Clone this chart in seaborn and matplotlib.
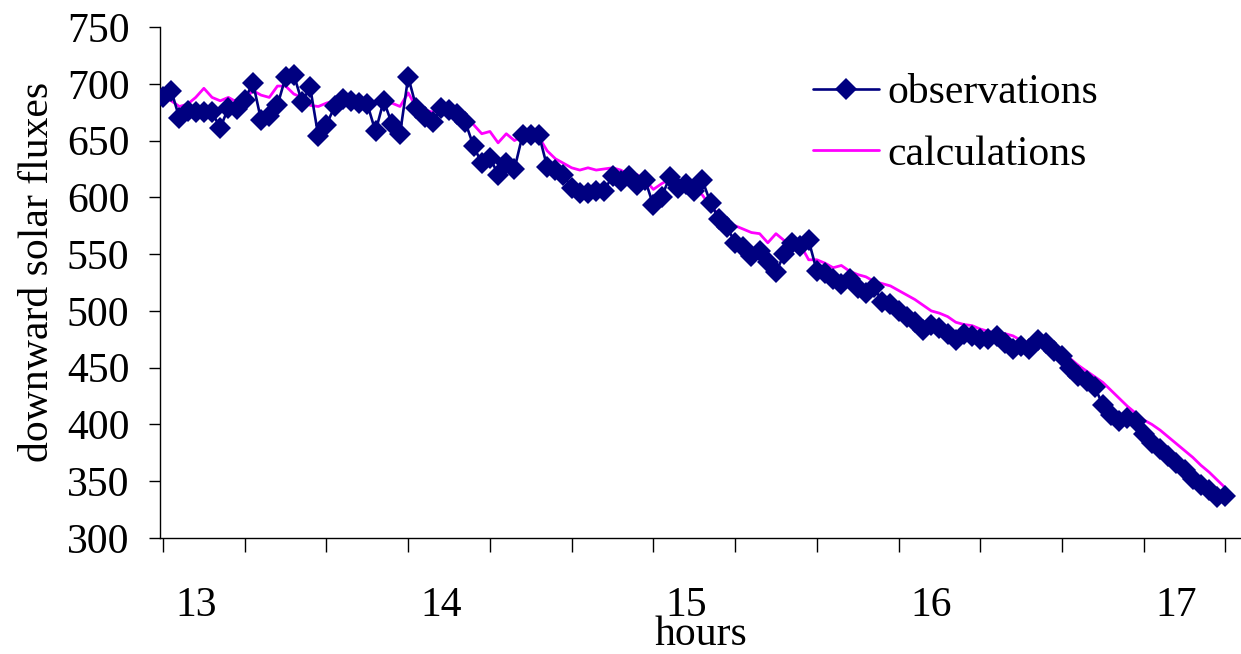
import numpy as np
import pandas as pd
import matplotlib
matplotlib.use('Agg')
import matplotlib.pyplot as plt
import seaborn as sns

# наблюдения, шаг 2 минуты, начало 12:52
observations = [
    688, 694, 670, 676, 675, 675, 675, 661, 679, 678,
    686, 701, 668, 672, 681, 706, 708, 684, 697, 654,
    664, 680, 687, 685, 683, 682, 658, 685, 665, 656,
    706, 679, 671, 666, 679, 677, 673, 666, 645, 630,
    635, 620, 630, 625, 655, 655, 655, 627, 624, 620,
    608, 604, 604, 606, 606, 619, 614, 619, 611, 615,
    593, 600, 618, 608, 612, 606, 615, 595, 581, 574,
    560, 556, 548, 553, 543, 534, 550, 560, 557, 562,
    535, 533, 528, 524, 528, 520, 516, 521, 508, 506,
    500, 495, 490, 483, 488, 485, 480, 474, 480, 478,
    475, 475, 478, 472, 466, 469, 466, 474, 472, 465,
    460, 450, 443, 438, 433, 417, 408, 403, 406, 403,
    392, 384, 378, 372, 366, 360, 352, 347, 342, 336,
    337,
]

calculations = [
    688, 685, 680, 682, 688, 696, 688, 685, 688, 684,
    686, 694, 690, 688, 698, 698, 691, 688, 681, 680,
    683, 685, 684, 683, 681, 680, 685, 680, 683, 680,
    692, 679, 677, 675, 680, 680, 676, 670, 664, 656,
    658, 648, 656, 650, 654, 654, 653, 641, 634, 630,
    626, 624, 626, 624, 625, 626, 624, 620, 620, 615,
    607, 612, 616, 610, 612, 608, 602, 592, 585, 578,
    575, 572, 569, 568, 560, 568, 562, 560, 558, 545,
    545, 542, 538, 540, 535, 532, 530, 526, 524, 522,
    518, 514, 510, 505, 500, 498, 495, 490, 488, 487,
    484, 482, 480, 480, 478, 474, 472, 470, 469, 466,
    462, 458, 452, 447, 442, 437, 430, 423, 416, 410,
    404, 400, 395, 389, 383, 377, 371, 364, 358, 351,
    344,
]

start_hour = 12 + 52 / 60
step_hour = 2 / 60
hour_labels = [13, 14, 15, 16, 17]
y_ticks = [300, 350, 400, 450, 500, 550, 600, 650, 700, 750]

hours = start_hour + step_hour * np.arange(len(observations))
df = pd.DataFrame({'hours': hours, 'observations': observations,
                   'calculations': calculations})

sns.set_theme(style='ticks')
plt.rcParams['font.family'] = ['Liberation Serif', 'DejaVu Serif']
for k in ['text.color', 'axes.labelcolor', 'xtick.color', 'ytick.color']:
    plt.rcParams[k] = 'black'

fig = plt.figure(figsize=(12.41, 6.54), dpi=100)
ax = fig.add_axes([160 / 1241, 1 - 538 / 654, 1 - 160 / 1241, (538 - 27) / 654])

sns.lineplot(data=df, x='hours', y='calculations', ax=ax, color='#FF00FF',
             linewidth=2.0, label='calculations', zorder=2)
sns.lineplot(data=df, x='hours', y='observations', ax=ax, color='#000080',
             linewidth=1.9, marker='D', markersize=11.5, markeredgewidth=0,
             label='observations', zorder=3)

ax.set_xlim(start_hour - 0.37 * step_hour, start_hour + 131.9 * step_hour)
ax.set_ylim(300, 750)
ax.set_yticks(y_ticks)
ax.set_yticklabels([str(v) for v in y_ticks], fontsize=30)

# метки делений каждые 20 минут, подписи часов отдельно
ax.set_xticks(start_hour + np.arange(0, 131, 10) * step_hour)
ax.set_xticklabels([])
ax.set_xticks(hour_labels, minor=True)
ax.set_xticklabels([str(h) for h in hour_labels], minor=True, fontsize=30)
ax.tick_params(axis='x', which='major', direction='out', length=10,
               width=1, color='black')
ax.tick_params(axis='x', which='minor', length=0, pad=35)
ax.tick_params(axis='y', direction='out', length=8, width=1, color='black',
               pad=14)

ax.set_xlabel('hours', fontsize=30, labelpad=-7)
ax.set_ylabel('downward solar fluxes', fontsize=30, labelpad=7)
ax.yaxis.label.set_y(0.52)

for s in ['top', 'right']:
    ax.spines[s].set_visible(False)
for s in ['left', 'bottom']:
    ax.spines[s].set_color('black')
    ax.spines[s].set_linewidth(1)

handles, labels = ax.get_legend_handles_labels()
ax.legend(handles[::-1], labels[::-1], loc='upper left',
          bbox_to_anchor=(796 / 1241, 1 - 57 / 654),
          bbox_transform=fig.transFigure, frameon=False, fontsize=30,
          handlelength=1.6, handletextpad=0.2, labelspacing=0.55,
          borderaxespad=0)

fig.savefig('out.png', dpi=100)
